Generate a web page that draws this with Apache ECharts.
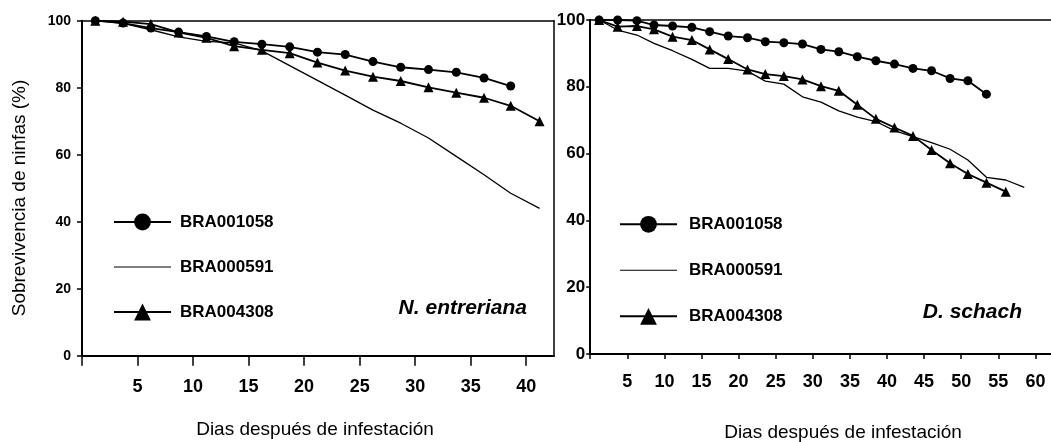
<!DOCTYPE html>
<html>
<head>
<meta charset="utf-8">
<script src="https://cdn.jsdelivr.net/npm/echarts@6/dist/echarts.min.js"></script>
<style>
  html, body { margin: 0; padding: 0; background: #fff; }
  #chart { width: 1051px; height: 442px; }
</style>
</head>
<body>
<div id="chart"></div>
<script>
// Nymph survival (%) over days after infestation, two tick species
const seriesNames = ['BRA001058', 'BRA000591', 'BRA004308'];

// Panel 1: N. entreriana
const daysEntreriana = [1.2, 3.7, 6.2, 8.7, 11.2, 13.7, 16.2, 18.7, 21.2, 23.7, 26.2, 28.7, 31.2, 33.7, 36.2, 38.6, 41.2];
const entrerianaBRA001058 = [100, 99.3, 97.8, 96.6, 95.3, 93.7, 93.0, 92.2, 90.6, 89.9, 87.8, 86.1, 85.4, 84.6, 82.9, 80.5];
const entrerianaBRA000591 = [100, 99.2, 97.3, 95.2, 93.8, 93.4, 91.0, 86.6, 82.2, 77.8, 73.3, 69.4, 65.0, 59.5, 54.0, 48.5, 44.0];
const entrerianaBRA004308 = [100, 99.7, 99.0, 96.5, 94.9, 92.4, 91.3, 90.3, 87.5, 85.1, 83.3, 82.0, 80.1, 78.5, 77.0, 74.6, 70.0];

// Panel 2: D. schach
const daysSchach = [1.2, 3.7, 6.3, 8.6, 11.1, 13.7, 16.1, 18.6, 21.2, 23.6, 26.1, 28.6, 31.1, 33.5, 36.0, 38.5, 41.0, 43.5, 46.0, 48.5, 50.9, 53.4, 56.0, 58.5];
const schachBRA001058 = [100, 100, 99.8, 98.5, 98.2, 97.8, 96.5, 95.2, 94.7, 93.5, 93.2, 92.8, 91.2, 90.5, 89.0, 87.8, 86.8, 85.5, 84.8, 82.5, 81.8, 77.8];
const schachBRA000591 = [100, 97.0, 95.5, 93.0, 90.8, 88.2, 85.5, 85.5, 84.7, 81.7, 80.8, 77.0, 75.4, 72.8, 70.9, 69.6, 66.9, 65.1, 63.3, 61.3, 58.1, 52.9, 52.1, 49.9];
const schachBRA004308 = [100, 98.0, 98.2, 97.2, 95.0, 94.0, 91.2, 88.3, 85.2, 83.8, 83.2, 82.2, 80.2, 78.8, 74.6, 70.4, 67.8, 65.3, 61.1, 57.1, 53.9, 51.3, 48.6];

const yTicks = [0, 20, 40, 60, 80, 100];
const xTicksEntreriana = [0, 5, 10, 15, 20, 25, 30, 35, 40];
const xTicksSchach = [0, 5, 10, 15, 20, 25, 30, 35, 40, 45, 50, 55, 60];

const yTitle = 'Sobrevivencia de ninfas (%)';
const xTitle = 'Dias después de infestación';
const speciesLabels = ['N. entreriana', 'D. schach'];

const FONT = '"Liberation Sans", Arial, Helvetica, sans-serif';
const BLACK = '#000';

function pairs(days, vals) {
  return vals.map((v, i) => [days[i], v]);
}

function makeSeries(idx, days, a, b, c) {
  return [
    { name: seriesNames[0], type: 'line', xAxisIndex: idx, yAxisIndex: idx,
      data: pairs(days, a), symbol: 'circle', symbolSize: 9,
      itemStyle: { color: BLACK }, lineStyle: { color: BLACK, width: 1.8 }, z: 3 },
    { name: seriesNames[1], type: 'line', xAxisIndex: idx, yAxisIndex: idx,
      data: pairs(days, b), symbol: 'none',
      itemStyle: { color: BLACK }, lineStyle: { color: BLACK, width: 1.3 }, z: 2 },
    { name: seriesNames[2], type: 'line', xAxisIndex: idx, yAxisIndex: idx,
      data: pairs(days, c), symbol: 'triangle', symbolSize: 10,
      itemStyle: { color: BLACK }, lineStyle: { color: BLACK, width: 1.8 }, z: 3 }
  ];
}

function xAxis(idx, max, ticks, tickLen, margin) {
  return {
    type: 'value', gridIndex: idx, min: 0, max: max, interval: 5,
    axisLine: { lineStyle: { color: BLACK, width: 2 } },
    axisTick: { show: true, length: tickLen, customValues: ticks, lineStyle: { color: BLACK, width: 1.5 } },
    axisLabel: {
      customValues: ticks.filter(t => t > 0),
      formatter: v => (v > 0 && v % 5 === 0) ? String(v) : '',
      color: BLACK, fontFamily: FONT, fontWeight: 'bold', fontSize: 18, margin: margin
    },
    splitLine: { show: false }
  };
}

function yAxis(idx, tickLen, fontSize, margin) {
  return {
    type: 'value', gridIndex: idx, min: 0, max: 100, interval: 20,
    axisLine: { show: true, lineStyle: { color: BLACK, width: 2 } },
    axisTick: { show: true, length: tickLen, customValues: yTicks, lineStyle: { color: BLACK, width: 1.5 } },
    axisLabel: { customValues: yTicks, color: BLACK, fontFamily: FONT, fontWeight: 'bold', fontSize: fontSize, margin: margin },
    splitLine: { show: false }
  };
}

// Plain frame edge (top / right) drawn as an unlabeled axis line
function frameAxis(idx, position, min, max) {
  return {
    type: 'value', gridIndex: idx, position: position, min: min, max: max,
    axisLine: { show: true, onZero: false, lineStyle: { color: BLACK, width: 1.5 } },
    axisTick: { show: false }, axisLabel: { show: false }, splitLine: { show: false }
  };
}

function legend(left, top, gap, textPad) {
  return {
    orient: 'vertical', left: left, top: top, itemGap: gap,
    itemWidth: 57, itemHeight: 21, selectedMode: false,
    data: [
      { name: seriesNames[0] },
      { name: seriesNames[1], icon: 'path://M0,0H100V2H0Z' },
      { name: seriesNames[2] }
    ],
    textStyle: { color: BLACK, fontFamily: FONT, fontWeight: 'bold', fontSize: 17, padding: [0, 0, 0, textPad] }
  };
}

const chart = echarts.init(document.getElementById('chart'), null, { renderer: 'canvas' });

const maxEntreriana = 42.5;
const maxSchach = 62.1;

chart.setOption({
  backgroundColor: '#fff',
  animation: false,
  grid: [
    { left: 82, top: 20.7, width: 472, height: 335 },
    { left: 590.2, top: 20, width: 460.8, height: 334 }
  ],
  xAxis: [
    xAxis(0, maxEntreriana, xTicksEntreriana, 10, 22),
    xAxis(1, maxSchach, xTicksSchach, 5, 19),
    frameAxis(0, 'top', 0, maxEntreriana),
    frameAxis(1, 'top', 0, maxSchach)
  ],
  yAxis: [
    yAxis(0, 5, 14, 11),
    yAxis(1, 4, 17, 5),
    frameAxis(0, 'right', 0, 100)
  ],
  legend: [
    legend(108, 208.5, 28, 4),
    legend(614, 210.8, 29, 7)
  ],
  series: [
    ...makeSeries(0, daysEntreriana, entrerianaBRA001058, entrerianaBRA000591, entrerianaBRA004308),
    ...makeSeries(1, daysSchach, schachBRA001058, schachBRA000591, schachBRA004308)
  ],
  graphic: [
    { type: 'text', x: 20, y: 198, rotation: Math.PI / 2,
      style: { text: yTitle, font: '19px ' + FONT, fill: BLACK, align: 'center', verticalAlign: 'middle' } },
    { type: 'text', x: 315, y: 430,
      style: { text: xTitle, font: '19px ' + FONT, fill: BLACK, align: 'center', verticalAlign: 'middle' } },
    { type: 'text', x: 843, y: 433,
      style: { text: xTitle, font: '19px ' + FONT, fill: BLACK, align: 'center', verticalAlign: 'middle' } },
    { type: 'text', x: 527, y: 308,
      style: { text: speciesLabels[0], font: 'italic bold 21px ' + FONT, fill: BLACK, align: 'right', verticalAlign: 'middle' } },
    { type: 'text', x: 1022, y: 312,
      style: { text: speciesLabels[1], font: 'italic bold 21px ' + FONT, fill: BLACK, align: 'right', verticalAlign: 'middle' } }
  ]
});
</script>
</body>
</html>
